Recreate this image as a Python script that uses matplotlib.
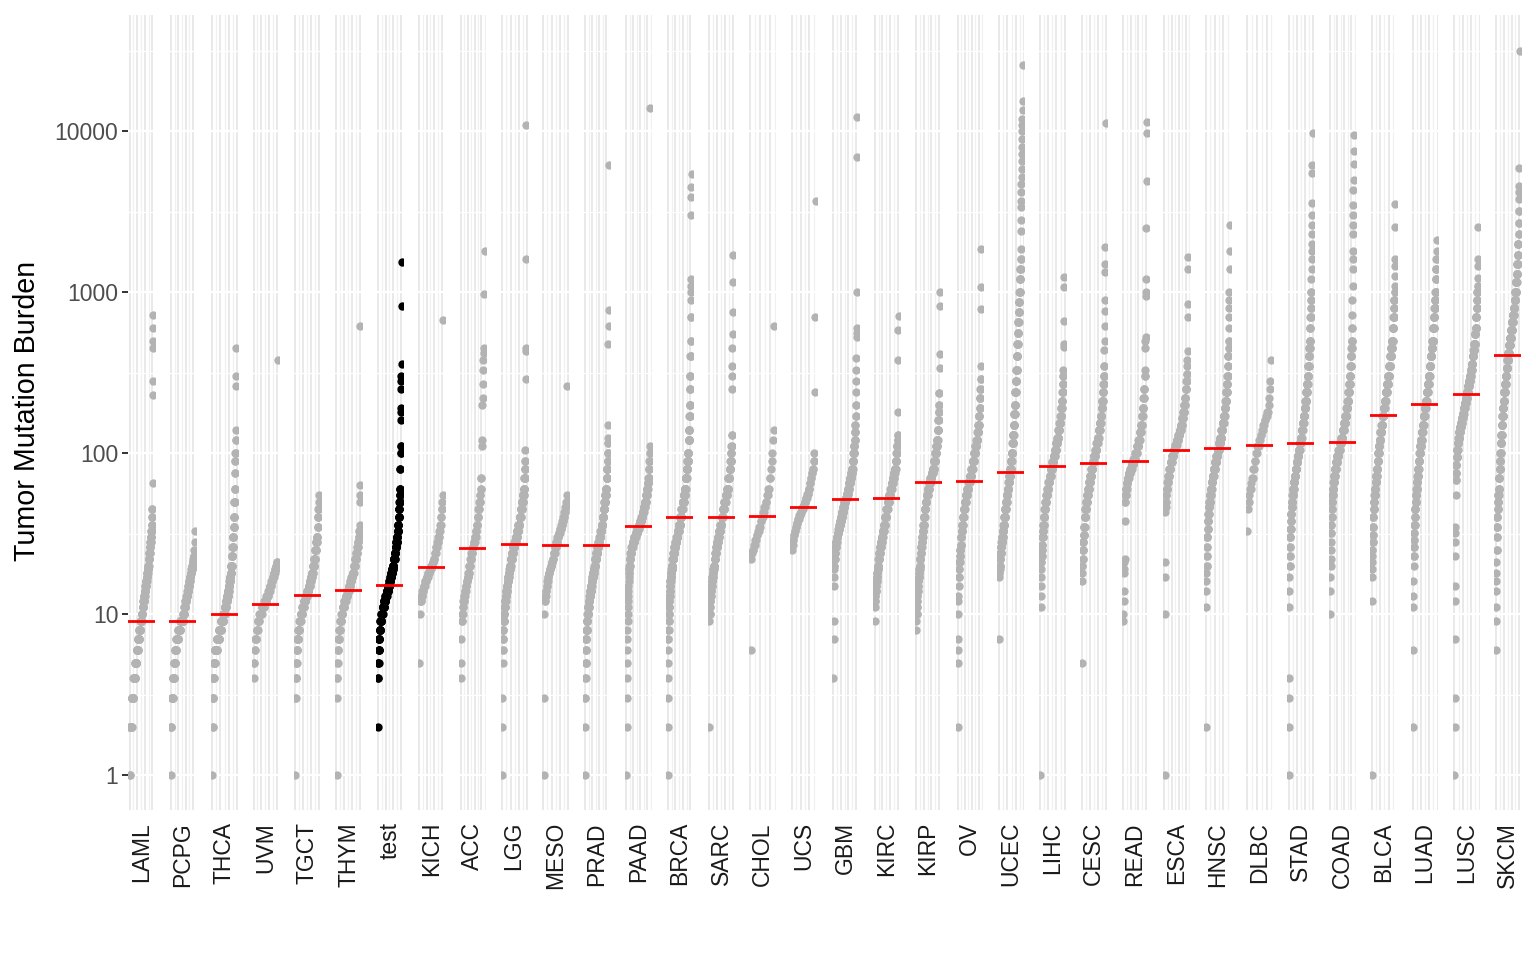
import numpy as np
import matplotlib.pyplot as plt
from matplotlib.ticker import MaxNLocator, AutoMinorLocator, NullLocator

plt.rcParams['font.family'] = ['Liberation Sans', 'DejaVu Sans']

cohorts = ['LAML', 'PCPG', 'THCA', 'UVM', 'TGCT', 'THYM', 'test', 'KICH', 'ACC',
           'LGG', 'MESO', 'PRAD', 'PAAD', 'BRCA', 'SARC', 'CHOL', 'UCS', 'GBM',
           'KIRC', 'KIRP', 'OV', 'UCEC', 'LIHC', 'CESC', 'READ', 'ESCA', 'HNSC',
           'DLBC', 'STAD', 'COAD', 'BLCA', 'LUAD', 'LUSC', 'SKCM']

medians = [9, 9, 10, 11.5, 13.1, 14.1, 15.1, 19.6, 25.7, 27.2, 27, 27, 35.3, 40,
           40, 40.5, 46, 51.9, 52.5, 66, 67, 76, 83, 87, 89, 104, 107, 112, 115,
           117, 172, 201, 232, 410]

# (tumor mutation burden, number of samples)
laml = [(1, 2), (2, 14), (3, 14), (4, 14), (5, 11), (6, 10), (7, 10), (8, 10), (9, 10),
        (10, 7), (11, 6), (12, 6), (13, 5), (14, 5), (15, 5), (16, 5), (17, 4), (18, 4),
        (19, 4), (20, 4), (22, 5), (24, 4), (26, 4), (28, 4), (30, 4), (33, 3), (36, 3),
        (40, 2), (45, 2), (65, 1), (230, 1), (280, 1), (450, 1), (500, 1), (600, 1), (720, 1)]
pcpg = [(1, 1), (2, 3), (3, 8), (4, 9), (5, 7), (6, 7), (7, 13), (8, 14), (9, 20), (10, 8),
        (11, 7), (12, 7), (13, 7), (14, 6), (15, 6), (16, 5), (17, 5), (18, 5), (19, 5),
        (20, 5), (21, 4), (22, 4), (23, 3), (25, 1), (28, 1), (33, 1)]
thca = [(1, 1), (2, 2), (3, 4), (4, 6), (5, 10), (6, 20), (7, 22), (8, 20), (9, 22),
        (10, 14), (11, 12), (12, 10), (13, 10), (14, 8), (15, 7), (16, 6), (17, 5), (18, 5),
        (20, 8), (23, 6), (26, 5), (30, 5), (35, 4), (40, 4), (50, 4), (60, 3), (75, 2),
        (90, 2), (100, 2), (120, 2), (140, 1), (260, 1), (300, 1), (450, 1)]
uvm = [(4, 1), (5, 2), (6, 2), (7, 4), (8, 4), (9, 5), (10, 8), (11, 8), (12, 7), (13, 6),
       (14, 5), (15, 5), (16, 4), (17, 4), (18, 4), (19, 3), (20, 3), (21, 2), (380, 1)]
tgct = [(1, 1), (3, 2), (4, 3), (5, 3), (6, 4), (7, 6), (8, 7), (9, 8), (10, 10), (11, 10),
        (12, 10), (13, 10), (14, 9), (15, 8), (16, 7), (17, 6), (18, 6), (20, 8), (22, 6),
        (25, 6), (28, 5), (30, 4), (35, 3), (40, 3), (45, 2), (50, 1), (55, 1)]
thym = [(1, 1), (3, 1), (4, 2), (5, 2), (6, 3), (7, 4), (8, 5), (9, 6), (10, 7), (11, 8),
        (12, 8), (13, 8), (14, 8), (15, 7), (16, 6), (17, 6), (18, 6), (20, 7), (22, 6),
        (24, 5), (26, 4), (28, 3), (30, 3), (33, 2), (36, 1), (50, 1), (55, 1), (63, 1), (620, 1)]
test = [(2, 1), (4, 2), (5, 3), (6, 4), (7, 6), (8, 8), (9, 10), (10, 14), (11, 14), (12, 14),
        (13, 14), (14, 14), (15, 14), (16, 10), (17, 9), (18, 9), (19, 8), (20, 8), (22, 12),
        (24, 8), (26, 8), (28, 7), (30, 6), (33, 6), (36, 5), (40, 5), (45, 4), (50, 4),
        (55, 3), (60, 3), (80, 2), (100, 2), (110, 2), (160, 1), (180, 1), (190, 1), (250, 1),
        (280, 1), (300, 1), (360, 1), (820, 1), (1550, 1)]
kich = [(5, 1), (10, 1), (12, 3), (13, 3), (14, 3), (15, 4), (16, 4), (17, 4), (18, 4),
        (19, 4), (20, 4), (21, 3), (22, 3), (24, 3), (26, 3), (28, 3), (30, 3), (33, 2),
        (36, 2), (40, 2), (45, 2), (50, 1), (55, 1), (670, 1)]
acc = [(4, 1), (5, 1), (7, 1), (9, 2), (10, 2), (11, 2), (12, 3), (13, 3), (14, 3), (15, 3),
       (16, 3), (17, 3), (18, 3), (20, 4), (22, 4), (24, 4), (26, 4), (28, 4), (30, 4), (33, 3),
       (36, 3), (40, 3), (45, 3), (50, 3), (55, 2), (60, 2), (70, 2), (110, 1), (120, 1),
       (200, 1), (220, 1), (270, 1), (330, 1), (380, 1), (420, 1), (450, 1), (970, 1), (1800, 1)]
lgg = [(1, 1), (2, 1), (3, 1), (5, 1), (6, 2), (7, 3), (8, 3), (9, 4), (10, 5), (11, 5),
       (12, 6), (13, 6), (14, 6), (15, 6), (16, 6), (17, 6), (18, 6), (19, 6), (20, 6),
       (22, 12), (24, 12), (26, 12), (28, 12), (30, 12), (33, 12), (36, 12), (40, 12), (45, 10),
       (50, 10), (55, 8), (60, 6), (70, 5), (80, 3), (90, 2), (105, 1), (290, 1), (430, 1),
       (450, 1), (1600, 1), (10900, 1)]
meso = [(1, 1), (3, 1), (10, 1), (12, 2), (13, 2), (14, 2), (15, 2), (16, 2), (17, 2), (18, 3),
        (19, 3), (20, 3), (21, 3), (22, 3), (24, 4), (26, 4), (28, 4), (30, 4), (32, 4), (34, 4),
        (36, 3), (38, 3), (40, 3), (43, 3), (46, 3), (50, 2), (55, 1), (260, 1)]
prad = [(1, 1), (2, 1), (3, 2), (4, 2), (5, 3), (6, 3), (7, 4), (8, 5), (9, 6), (10, 7),
        (11, 8), (12, 8), (13, 8), (14, 8), (15, 8), (16, 8), (17, 8), (18, 8), (19, 8), (20, 8),
        (22, 12), (24, 12), (26, 12), (28, 12), (30, 12), (33, 12), (36, 11), (40, 11), (45, 10),
        (50, 9), (55, 8), (60, 7), (70, 6), (80, 5), (90, 4), (100, 3), (115, 2), (125, 1),
        (150, 1), (480, 1), (620, 1), (770, 1), (6200, 1)]
paad = [(1, 1), (2, 1), (3, 1), (4, 1), (5, 1), (6, 1), (7, 1), (8, 1), (9, 1), (10, 1),
        (11, 1), (12, 1), (13, 1), (14, 1), (15, 1), (16, 1), (17, 1), (18, 2), (19, 2), (20, 3),
        (22, 5), (24, 7), (26, 9), (28, 10), (30, 11), (32, 11), (34, 11), (36, 10), (38, 9),
        (40, 9), (43, 8), (46, 8), (50, 8), (55, 7), (60, 6), (65, 5), (70, 4), (80, 3), (90, 2),
        (100, 2), (110, 1), (14000, 1)]
brca = [(1, 1), (2, 1), (3, 1), (4, 1), (5, 1), (6, 1), (7, 2), (8, 2), (9, 2), (10, 3),
        (11, 3), (12, 3), (13, 3), (14, 4), (15, 4), (16, 5), (17, 5), (18, 6), (19, 6), (20, 7),
        (22, 12), (24, 13), (26, 14), (28, 14), (30, 14), (33, 17), (36, 17), (40, 17), (45, 17),
        (50, 15), (55, 13), (60, 11), (70, 14), (80, 10), (90, 8), (100, 7), (120, 7), (140, 5),
        (170, 4), (200, 4), (250, 3), (300, 3), (400, 3), (500, 2), (700, 2), (900, 1),
        (1000, 1), (1100, 1), (1200, 1), (3000, 1), (3900, 1), (4500, 1), (5400, 1)]
sarc = [(2, 1), (9, 1), (10, 2), (11, 2), (12, 3), (13, 3), (14, 3), (15, 4), (16, 4), (17, 4),
        (18, 4), (19, 4), (20, 5), (22, 6), (24, 6), (26, 7), (28, 7), (30, 7), (33, 10),
        (36, 10), (40, 10), (45, 10), (50, 11), (55, 10), (60, 9), (70, 10), (80, 7), (90, 5),
        (100, 3), (110, 2), (130, 2), (250, 1), (300, 1), (350, 1), (450, 1), (550, 1),
        (750, 1), (1150, 1), (1700, 1)]
chol = [(6, 1), (22, 1), (24, 1), (25, 2), (27, 2), (29, 2), (31, 2), (33, 2), (35, 2),
        (38, 2), (40, 2), (43, 2), (46, 2), (50, 2), (55, 2), (60, 2), (70, 2), (80, 1),
        (90, 1), (100, 1), (120, 1), (140, 1), (620, 1)]
ucs = [(25, 1), (27, 1), (29, 2), (31, 2), (33, 2), (35, 2), (37, 3), (39, 3), (41, 3),
       (43, 3), (45, 3), (47, 3), (50, 3), (53, 3), (56, 3), (60, 3), (65, 2), (70, 2),
       (75, 2), (80, 2), (90, 2), (100, 1), (240, 1), (700, 1), (3700, 1)]
gbm = [(4, 1), (7, 1), (9, 1), (15, 1), (17, 1), (19, 1), (20, 2), (22, 3), (24, 4), (26, 5),
       (28, 6), (30, 7), (32, 7), (34, 7), (36, 7), (38, 7), (40, 8), (43, 9), (46, 9), (50, 10),
       (53, 10), (56, 9), (60, 9), (65, 8), (70, 8), (75, 7), (80, 6), (90, 6), (100, 5),
       (110, 4), (120, 3), (135, 3), (150, 2), (170, 2), (200, 2), (240, 1), (280, 1),
       (330, 1), (390, 1), (530, 1), (560, 1), (600, 1), (1000, 1), (6900, 1), (12300, 1)]
kirc = [(9, 1), (11, 1), (12, 2), (13, 2), (14, 3), (15, 3), (16, 3), (17, 3), (18, 3),
        (19, 3), (20, 4), (22, 6), (24, 7), (26, 7), (28, 7), (30, 7), (33, 9), (36, 9),
        (40, 10), (45, 11), (50, 11), (55, 11), (60, 10), (65, 9), (70, 8), (75, 7), (80, 7),
        (90, 6), (100, 5), (110, 4), (120, 3), (130, 2), (180, 1), (380, 1), (580, 1), (710, 1)]
kirp = [(8, 1), (9, 1), (10, 2), (11, 2), (12, 2), (13, 2), (14, 2), (15, 3), (16, 3),
        (17, 3), (18, 3), (19, 3), (20, 3), (22, 4), (24, 4), (26, 4), (28, 4), (30, 4),
        (33, 5), (36, 5), (40, 6), (45, 7), (50, 8), (55, 9), (60, 10), (65, 10), (70, 10),
        (75, 9), (80, 9), (90, 10), (100, 8), (110, 6), (120, 5), (140, 5), (160, 3), (180, 3),
        (200, 2), (235, 2), (340, 1), (415, 1), (820, 1), (1000, 1)]
ov = [(2, 1), (5, 1), (6, 1), (7, 1), (10, 1), (12, 1), (13, 1), (15, 1), (17, 2), (19, 2),
      (21, 3), (23, 3), (25, 3), (27, 3), (30, 4), (33, 4), (36, 5), (40, 6), (45, 7), (50, 8),
      (55, 9), (60, 10), (66, 10), (72, 10), (80, 10), (90, 10), (100, 9), (110, 8), (120, 7),
      (135, 6), (150, 5), (170, 4), (190, 3), (220, 3), (250, 2), (290, 2), (350, 1),
      (790, 1), (1070, 1), (1860, 1)]
ucec = [(7, 1), (17, 1), (18, 2), (19, 2), (20, 3), (22, 4), (24, 5), (26, 5), (28, 6),
        (30, 6), (33, 7), (36, 7), (40, 8), (45, 8), (50, 8), (55, 8), (60, 8), (66, 8),
        (72, 8), (80, 8), (90, 7), (100, 7), (115, 6), (130, 6), (150, 5), (175, 5), (200, 5),
        (240, 5), (280, 5), (330, 5), (400, 5), (480, 4), (560, 4), (650, 4), (750, 4),
        (870, 4), (1000, 4), (1200, 4), (1400, 3), (1600, 2), (1850, 1), (2400, 1), (2800, 1),
        (3400, 1), (3700, 1), (4200, 1), (4700, 1), (5200, 1), (5800, 1), (6500, 1),
        (7200, 1), (8000, 1), (9000, 1), (10000, 1), (11000, 1), (12000, 1), (13500, 1),
        (15500, 1), (26000, 1)]
lihc = [(1, 1), (11, 1), (13, 1), (15, 1), (17, 1), (19, 1), (21, 2), (23, 2), (25, 2),
        (27, 3), (30, 3), (33, 3), (36, 4), (40, 5), (45, 6), (50, 7), (55, 8), (60, 8),
        (66, 9), (72, 9), (80, 10), (88, 10), (96, 10), (105, 9), (115, 9), (125, 8), (140, 8),
        (155, 7), (170, 6), (190, 5), (210, 4), (240, 3), (270, 3), (300, 2), (330, 1),
        (455, 1), (480, 1), (660, 1), (1070, 1), (1250, 1)]
cesc = [(5, 1), (16, 1), (18, 1), (20, 2), (22, 2), (25, 3), (28, 3), (31, 4), (35, 4),
        (40, 5), (45, 6), (50, 7), (55, 7), (60, 8), (66, 8), (72, 9), (80, 9), (88, 10),
        (96, 10), (105, 9), (115, 9), (125, 8), (140, 8), (155, 7), (170, 6), (190, 5),
        (210, 5), (240, 4), (270, 3), (300, 3), (350, 2), (440, 1), (500, 1), (620, 1),
        (760, 1), (890, 1), (1340, 1), (1500, 1), (1900, 1), (11200, 1)]
read = [(9, 1), (10, 1), (12, 1), (14, 1), (18, 1), (19, 1), (21, 1), (22, 1), (38, 1),
        (50, 2), (55, 3), (60, 4), (65, 5), (70, 6), (75, 7), (80, 8), (86, 9), (92, 9),
        (100, 9), (110, 8), (120, 7), (135, 6), (150, 5), (170, 4), (190, 4), (220, 3),
        (250, 3), (300, 2), (330, 1), (450, 1), (500, 1), (530, 1), (950, 1), (1000, 1),
        (1200, 1), (2500, 1), (4900, 1), (9700, 1), (11500, 1)]
esca = [(1, 1), (10, 1), (17, 1), (21, 1), (43, 1), (46, 1), (50, 2), (55, 3), (60, 4),
        (66, 5), (72, 6), (80, 7), (88, 8), (96, 9), (104, 9), (112, 9), (120, 8), (130, 8),
        (140, 7), (150, 7), (165, 6), (180, 5), (200, 5), (220, 4), (250, 4), (280, 3),
        (310, 2), (350, 1), (380, 1), (430, 1), (700, 1), (850, 1), (1400, 1), (1650, 1)]
hnsc = [(2, 1), (11, 1), (14, 1), (16, 1), (18, 1), (20, 2), (23, 2), (26, 2), (30, 3),
        (34, 3), (38, 4), (42, 4), (46, 5), (50, 6), (55, 7), (60, 8), (66, 9), (72, 10),
        (80, 11), (88, 12), (96, 12), (105, 12), (115, 12), (125, 11), (140, 11), (155, 10),
        (170, 9), (190, 8), (210, 7), (240, 6), (270, 5), (300, 4), (350, 3), (400, 3),
        (450, 2), (500, 2), (600, 1), (700, 1), (800, 1), (900, 1), (1000, 1), (1400, 1),
        (1800, 1), (2600, 1)]
dlbc = [(33, 1), (45, 1), (50, 1), (55, 1), (60, 2), (65, 1), (70, 2), (80, 2), (90, 2),
        (100, 2), (110, 3), (120, 2), (130, 2), (140, 2), (150, 2), (160, 2), (170, 2),
        (180, 2), (200, 1), (220, 1), (250, 1), (280, 1), (380, 1)]
stad = [(1, 1), (2, 1), (3, 1), (4, 1), (11, 1), (14, 1), (17, 1), (20, 2), (23, 2), (26, 2),
        (30, 3), (34, 3), (38, 3), (42, 4), (46, 4), (50, 5), (55, 6), (60, 7), (66, 8), (72, 9),
        (80, 10), (88, 10), (96, 10), (105, 10), (115, 10), (125, 10), (140, 10), (155, 9),
        (170, 9), (190, 8), (210, 8), (240, 7), (270, 7), (300, 6), (350, 6), (400, 5),
        (450, 4), (500, 4), (600, 3), (700, 3), (800, 2), (900, 2), (1000, 2), (1200, 1),
        (1400, 1), (1600, 1), (1800, 1), (2000, 1), (2300, 1), (2600, 1), (3000, 1),
        (3600, 1), (5500, 1), (6200, 1), (9800, 1)]
coad = [(10, 1), (14, 1), (17, 1), (20, 1), (22, 1), (25, 1), (28, 1), (32, 2), (36, 2),
        (40, 2), (45, 2), (50, 3), (55, 4), (60, 5), (66, 6), (72, 7), (80, 9), (88, 10),
        (96, 11), (105, 12), (115, 12), (125, 12), (140, 12), (155, 11), (170, 10), (190, 9),
        (210, 8), (240, 7), (270, 6), (300, 5), (350, 4), (400, 4), (450, 3), (500, 3),
        (600, 2), (720, 1), (900, 1), (1100, 1), (1400, 1), (1600, 1), (1800, 1), (2300, 1),
        (2600, 1), (3000, 1), (3500, 1), (4300, 1), (5000, 1), (6300, 1), (7500, 1), (9500, 1)]
blca = [(1, 1), (12, 1), (17, 1), (19, 1), (21, 1), (23, 1), (25, 2), (28, 2), (31, 2),
        (35, 3), (40, 3), (45, 4), (50, 4), (55, 5), (60, 5), (66, 6), (72, 6), (80, 7),
        (90, 6), (100, 6), (110, 7), (120, 7), (135, 10), (150, 10), (170, 10), (190, 10),
        (210, 10), (240, 11), (270, 11), (300, 10), (350, 10), (400, 9), (450, 8), (500, 7),
        (600, 6), (700, 5), (800, 3), (900, 3), (1000, 2), (1090, 1), (1270, 1), (1450, 1),
        (1620, 1), (2560, 1), (3550, 1)]
luad = [(2, 1), (6, 1), (11, 1), (13, 1), (16, 1), (20, 1), (23, 2), (26, 2), (29, 2),
        (32, 2), (36, 3), (40, 3), (45, 4), (50, 4), (55, 5), (60, 5), (66, 5), (72, 6),
        (80, 6), (90, 7), (100, 7), (110, 8), (120, 8), (135, 9), (150, 9), (170, 10),
        (190, 10), (210, 10), (240, 10), (270, 10), (300, 9), (350, 9), (400, 9), (450, 8),
        (500, 8), (600, 7), (700, 6), (800, 5), (900, 4), (1000, 4), (1200, 3), (1400, 3),
        (1600, 2), (1800, 1), (2100, 1)]
lusc = [(1, 1), (2, 1), (3, 1), (7, 1), (12, 1), (15, 1), (23, 1), (28, 1), (32, 1), (35, 1),
        (55, 1), (68, 2), (75, 3), (85, 4), (95, 5), (105, 6), (115, 7), (125, 7), (135, 8),
        (145, 8), (155, 9), (165, 9), (175, 9), (190, 10), (205, 10), (220, 10), (240, 10),
        (260, 10), (280, 9), (300, 9), (330, 9), (360, 8), (400, 8), (440, 7), (480, 7),
        (550, 6), (600, 5), (700, 5), (800, 4), (900, 3), (1000, 3), (1100, 2), (1220, 1),
        (1450, 1), (1620, 1), (2550, 1)]
skcm = [(6, 1), (9, 1), (11, 1), (14, 1), (16, 1), (18, 1), (21, 1), (25, 2), (30, 2),
        (35, 3), (40, 3), (45, 3), (50, 4), (55, 4), (60, 4), (70, 5), (80, 5), (90, 4),
        (100, 4), (115, 5), (130, 5), (150, 6), (170, 6), (190, 6), (210, 6), (240, 8),
        (270, 8), (300, 8), (340, 8), (380, 8), (420, 9), (470, 10), (520, 10), (580, 10),
        (650, 9), (720, 9), (800, 8), (900, 8), (1000, 7), (1150, 7), (1300, 6), (1500, 5),
        (1700, 4), (2000, 4), (2300, 2), (2700, 2), (3200, 2), (3800, 1), (4200, 1),
        (4600, 1), (5900, 1), (31500, 1)]

cohort_data = [laml, pcpg, thca, uvm, tgct, thym, test, kich, acc, lgg, meso, prad, paad,
               brca, sarc, chol, ucs, gbm, kirc, kirp, ov, ucec, lihc, cesc, read, esca,
               hnsc, dlbc, stad, coad, blca, luad, lusc, skcm]

W, H = 1536, 960
fig = plt.figure(figsize=(W / 100, H / 100), dpi=100)

left0, pitch, pw = 128, 41.4, 27
top, bottom = 15, 810

for i, name in enumerate(cohorts):
    vals = np.repeat([v for v, c in cohort_data[i]], [c for v, c in cohort_data[i]])
    n = len(vals)
    x = np.arange(1, n + 1)
    r = n - 1

    ax = fig.add_axes([(left0 + i * pitch) / W, 1 - bottom / H, pw / W, (bottom - top) / H])
    ax.set_yscale('log')
    ax.set_ylim(0.606, 52800)
    ax.set_xlim(1 - 0.07 * r, n + 0.07 * r)
    for s in ax.spines.values():
        s.set_visible(False)

    # vertical grid inside each facet
    ax.xaxis.set_major_locator(MaxNLocator(4))
    ax.xaxis.set_minor_locator(AutoMinorLocator(2))
    ax.set_axisbelow(True)
    ax.grid(axis='x', which='major', color='#E3E3E3', lw=1.1)
    ax.grid(axis='x', which='minor', color='#F0F0F0', lw=0.9)
    ax.tick_params(axis='x', which='both', bottom=False, labelbottom=False)

    # white horizontal lines over the grey ones
    for k in range(0, 5):
        ax.axhline(10 ** k, color='white', lw=1.6, zorder=1)
    for k in range(-1, 5):
        ax.axhline(10 ** (k + 0.5), color='white', lw=0.9, zorder=1)

    col = 'black' if name == 'test' else '#B3B3B3'
    ax.scatter(x, vals, s=36, color=col, linewidths=0, zorder=2)
    ax.axhline(medians[i], color='red', lw=2, zorder=3)

    ax.yaxis.set_minor_locator(NullLocator())
    if i == 0:
        ax.set_yticks([1, 10, 100, 1000, 10000])
        ax.set_yticklabels(['1', '10', '100', '1000', '10000'])
        ax.tick_params(axis='y', which='major', length=4, width=1.4, color='#333333',
                       labelcolor='#4D4D4D', labelsize=16.5, pad=3)
    else:
        ax.tick_params(axis='y', which='both', left=False, labelleft=False)

    fig.text((left0 + i * pitch + pw / 2) / W, 1 - 822 / H, name, rotation=90,
             ha='center', va='top', fontsize=16.5, color='#1A1A1A')

fig.text(27 / W, 1 - 411 / H, 'Tumor Mutation Burden', rotation=90,
         ha='center', va='center', fontsize=20.6, color='black')

fig.savefig('out.png', dpi=100)
